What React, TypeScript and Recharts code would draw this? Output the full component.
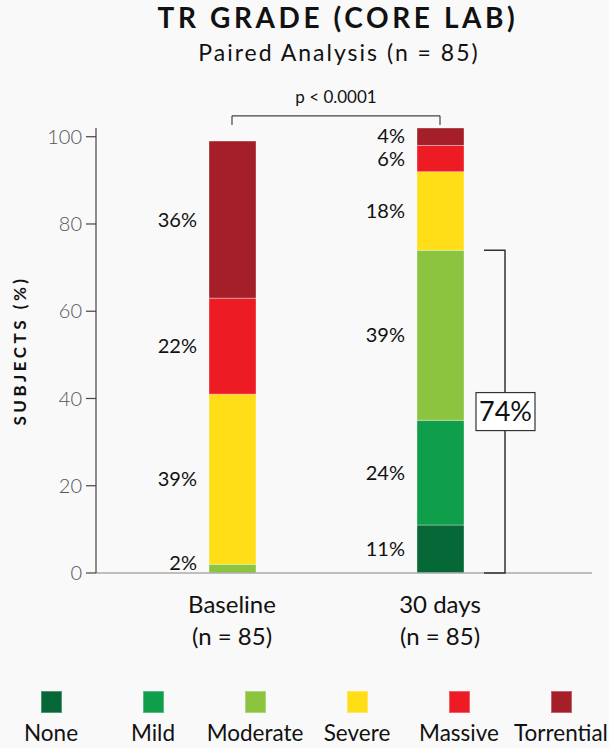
import React from 'react';
import { BarChart, Bar, XAxis, YAxis, LabelList, ReferenceLine, Label } from 'recharts';

const categories = ['Baseline', '30 days'];
const sampleSizes = [85, 85];

const grades = ['None', 'Mild', 'Moderate', 'Severe', 'Massive', 'Torrential'];
const gradeKeys = ['none', 'mild', 'moderate', 'severe', 'massive', 'torrential'];
const gradeColors = ['#066837', '#0f9e4a', '#8cc43f', '#ffdd17', '#ed1c24', '#a51f29'];

const noneValues = [0, 11];
const mildValues = [0, 24];
const moderateValues = [2, 39];
const severeValues = [39, 18];
const massiveValues = [22, 6];
const torrentialValues = [36, 4];

const yTicks = [0, 20, 40, 60, 80, 100];
const pValueText = 'p < 0.0001';

const FONT = 'Lato, "Open Sans", sans-serif';

const seriesValues = [noneValues, mildValues, moderateValues, severeValues, massiveValues, torrentialValues];

const chartData = categories.map((name, i) => {
  const row: any = { name, n: sampleSizes[i] };
  gradeKeys.forEach((k, g) => {
    row[k] = seriesValues[g][i];
  });
  return row;
});

// share of subjects at moderate or better after 30 days
const lastIdx = categories.length - 1;
const improvedShare = noneValues[lastIdx] + mildValues[lastIdx] + moderateValues[lastIdx];

const getBox = (props: any) => {
  const vb = props.viewBox || props;
  return { x: Number(vb.x), y: Number(vb.y), width: Number(vb.width), height: Number(vb.height) };
};

// percent text to the left of each stacked segment
const SegmentLabel = (props: any) => {
  const { value } = props;
  if (!value) return null;
  const { x, y, height } = getBox(props);
  const lift = height < 20 ? (20 - height) / 2 : 0;
  return (
    <text
      x={x - 12}
      y={y + height / 2 - lift}
      dy="0.36em"
      textAnchor="end"
      fontFamily={FONT}
      fontSize={20}
      fill="#111"
    >
      {value}%
    </text>
  );
};

// bracket spanning none + mild + moderate on the last bar
const ImprovedBracket = (props: any) => {
  const { index, value } = props;
  if (index !== lastIdx || !value) return null;
  const { x, y, width, height } = getBox(props);
  const zeroY = y + (height * improvedShare) / value;
  const lineX = x + width + 41;
  const midY = (y + zeroY) / 2;
  return (
    <g>
      <path
        d={`M${x + width + 20},${y} H${lineX} V${zeroY} H${x + width + 20}`}
        fill="none"
        stroke="#333"
        strokeWidth={1.5}
      />
      <rect x={lineX - 29} y={midY - 19} width={59} height={38} fill="#fff" stroke="#333" strokeWidth={1.2} />
      <text x={lineX + 0.5} y={midY} dy="0.36em" textAnchor="middle" fontFamily={FONT} fontSize={27} fill="#111">
        {improvedShare}%
      </text>
    </g>
  );
};

const CategoryTick = (props: any) => {
  const { x, y, payload, index } = props;
  const i = index ?? payload.index ?? 0;
  return (
    <g>
      <text x={x} y={y + 40} textAnchor="middle" fontFamily={FONT} fontSize={24} fill="#111">
        {payload.value}
      </text>
      <text x={x} y={y + 72} textAnchor="middle" fontFamily={FONT} fontSize={24} fill="#111">
        (n = {sampleSizes[i]})
      </text>
    </g>
  );
};

const App: React.FC = () => {
  return (
    <div style={{ position: 'absolute', left: 0, top: 0, width: 609, height: 748, background: '#f9f9f9', fontFamily: FONT }}>
      <svg width={609} height={80} style={{ position: 'absolute', left: 0, top: 0 }}>
        <text x={338} y={28} textAnchor="middle" fontFamily={FONT} fontWeight={700} fontSize={28} letterSpacing={3.6} fill="#111">
          TR GRADE (CORE LAB)
        </text>
        <text x={339} y={61} textAnchor="middle" fontFamily={FONT} fontSize={23} letterSpacing={2} fill="#111">
          Paired Analysis (n = 85)
        </text>
      </svg>

      <div style={{ position: 'absolute', left: 0, top: 0 }}>
        <BarChart width={609} height={748} data={chartData} margin={{ top: 128, right: 17, left: 36, bottom: 95 }} barSize={47}>
          <XAxis
            dataKey="name"
            axisLine={{ stroke: '#aaa', strokeWidth: 1.5 }}
            tickLine={false}
            tickSize={0}
            tickMargin={0}
            height={80}
            padding={{ left: 32, right: 48 }}
            tick={<CategoryTick />}
            interval={0}
          />
          <YAxis
            type="number"
            domain={[0, 102]}
            ticks={yTicks}
            interval={0}
            width={60}
            axisLine={{ stroke: '#444', strokeWidth: 1.2 }}
            tickLine={{ stroke: '#444', strokeWidth: 1.2 }}
            tickSize={10}
            tickMargin={4}
            tick={{ fontFamily: FONT, fontSize: 20, fontWeight: 300, fill: '#555' }}
          >
            <Label
              content={(p: any) => {
                const vb = p.viewBox || {};
                const cx = Number(vb.x) - 16;
                const cy = Number(vb.y) + Number(vb.height) / 2;
                return (
                  <text
                    transform={`translate(${cx},${cy}) rotate(-90)`}
                    textAnchor="middle"
                    dy="0.36em"
                    fontFamily={FONT}
                    fontWeight={700}
                    fontSize={17}
                    letterSpacing={3.5}
                    fill="#111"
                  >
                    SUBJECTS (%)
                  </text>
                );
              }}
            />
          </YAxis>

          {gradeKeys.map((k, g) => (
            <Bar
              key={k}
              dataKey={k}
              name={grades[g]}
              stackId="tr"
              fill={gradeColors[g]}
              stroke="rgba(255,255,255,0.35)"
              strokeWidth={1}
              isAnimationActive={false}
            >
              <LabelList dataKey={k} content={<SegmentLabel />} />
              {k === 'moderate' && <LabelList dataKey={k} content={<ImprovedBracket />} />}
            </Bar>
          ))}

          <ReferenceLine
            segment={[{ x: categories[0], y: 104.8 }, { x: categories[lastIdx], y: 104.8 }]}
            stroke="#444"
            strokeWidth={1.2}
            ifOverflow="visible"
            label={{ value: pValueText, position: 'top', offset: 13, fontFamily: FONT, fontSize: 17, fill: '#111' }}
          />
          <ReferenceLine
            segment={[{ x: categories[0], y: 104.8 }, { x: categories[0], y: 102.7 }]}
            stroke="#444"
            strokeWidth={1.2}
            ifOverflow="visible"
          />
          <ReferenceLine
            segment={[{ x: categories[lastIdx], y: 104.8 }, { x: categories[lastIdx], y: 102.7 }]}
            stroke="#444"
            strokeWidth={1.2}
            ifOverflow="visible"
          />
        </BarChart>
      </div>

      <div style={{ position: 'absolute', left: 0, top: 691, display: 'flex' }}>
        {grades.map((g, i) => (
          <div key={g} style={{ width: 102, display: 'flex', flexDirection: 'column', alignItems: 'center' }}>
            <div
              style={{
                width: 21,
                height: 22,
                background: gradeColors[i],
                boxShadow: 'inset 0 0 0 1px rgba(255,255,255,0.3)',
              }}
            />
            <div style={{ marginTop: 8, fontSize: 22.5, lineHeight: '24px', color: '#111', whiteSpace: 'nowrap' }}>{g}</div>
          </div>
        ))}
      </div>
    </div>
  );
};

export default App;
